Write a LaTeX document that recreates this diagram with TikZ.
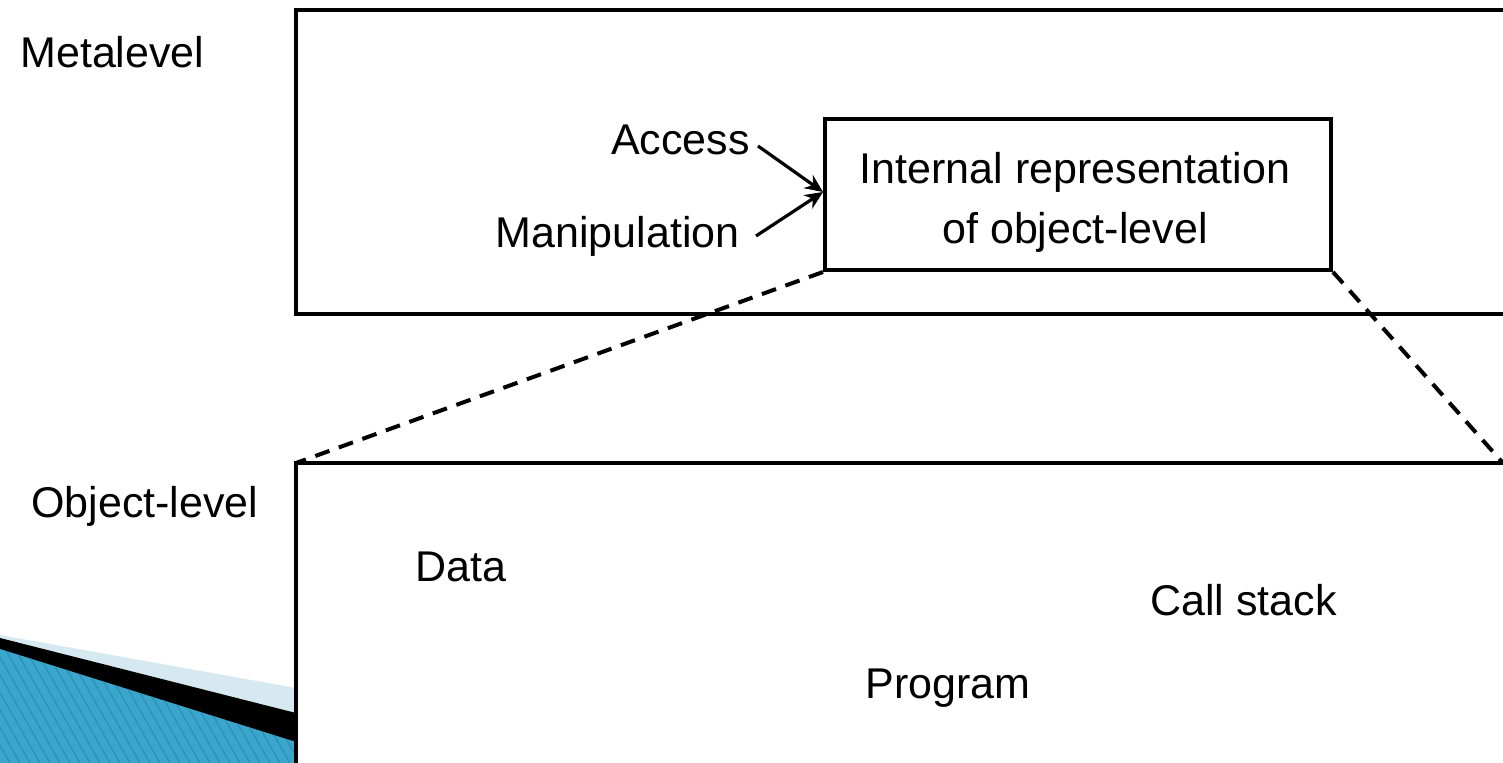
\documentclass[tikz,border=0pt]{standalone}
\usepackage{fontspec}
\setmainfont{Liberation Sans}
\usetikzlibrary{arrows.meta}
\definecolor{bandlight}{HTML}{D6E9F1}
\definecolor{bandblue}{HTML}{3AA6CC}
\definecolor{stripe}{HTML}{2E8FB3}
\begin{document}
\begin{tikzpicture}[x=0.5pt,y=-0.5pt,
  frame/.style={draw=black,line width=2pt},
  label/.style={font=\fontsize{21.5}{24}\selectfont,inner sep=0pt},
  link/.style={draw=black,line width=1.6pt,-{Stealth[length=9pt,width=8pt]}},
  zoomline/.style={draw=black,line width=2pt,dash pattern=on 7.5pt off 5pt}]
\useasboundingbox (0,0) rectangle (1503,763);
\begin{scope}
\clip (0,0) rectangle (1503,763);
% corner decoration
\fill[bandlight] (0,635) -- (296,688) -- (296,763) -- (0,763) -- cycle;
\fill[black] (0,638) -- (296,713) -- (296,763) -- (0,763) -- cycle;
\fill[bandblue] (0,649) -- (296,742) -- (296,763) -- (0,763) -- cycle;
\begin{scope}
\clip (0,649) -- (296,742) -- (296,763) -- (0,763) -- cycle;
\foreach \s in {-200,-190,...,300}
  \draw[stripe,line width=0.6pt] (\s,640) -- (\s+70,763);
\end{scope}
% level frames
\draw[frame] (1560,10) -- (296,10) -- (296,314) -- (1560,314);
\fill[white] (297,464) rectangle (1503,763);
\draw[frame] (1560,463) -- (296,463) -- (296,800);
\end{scope}
% corners of the object-level frame
\coordinate (olTL) at (296,463);
\coordinate (olTR) at (1503,463);
% internal representation box
\node[frame,minimum width=253pt,minimum height=75.5pt,inner sep=0pt,anchor=north west] (irep) at (823,117) {};
\node[label,align=center] at (1075,202) {Internal representation\\[6pt]of object-level};
% labels
\node[label,anchor=west] (meta) at (20,52) {Metalevel};
\node[label,anchor=west] (objl) at (31,506) {Object-level};
\node[label,anchor=east] (acc) at (750,140) {Access};
\node[label,anchor=east] (man) at (740,236) {Manipulation};
\node[label,anchor=west] (data) at (415,567) {Data};
\node[label,anchor=west] (cst) at (1150,600) {Call stack};
\node[label] (prog) at (948,688) {Program};
% connectors
\coordinate (tip) at (823,192);
\draw[link] (acc.east) ++(4pt,-3pt) -- (tip);
\draw[link] (man.east) ++(8pt,0pt) -- (tip);
\draw[zoomline] (irep.south west) -- (olTL);
\draw[zoomline] (irep.south east) -- (olTR);
\end{tikzpicture}
\end{document}
